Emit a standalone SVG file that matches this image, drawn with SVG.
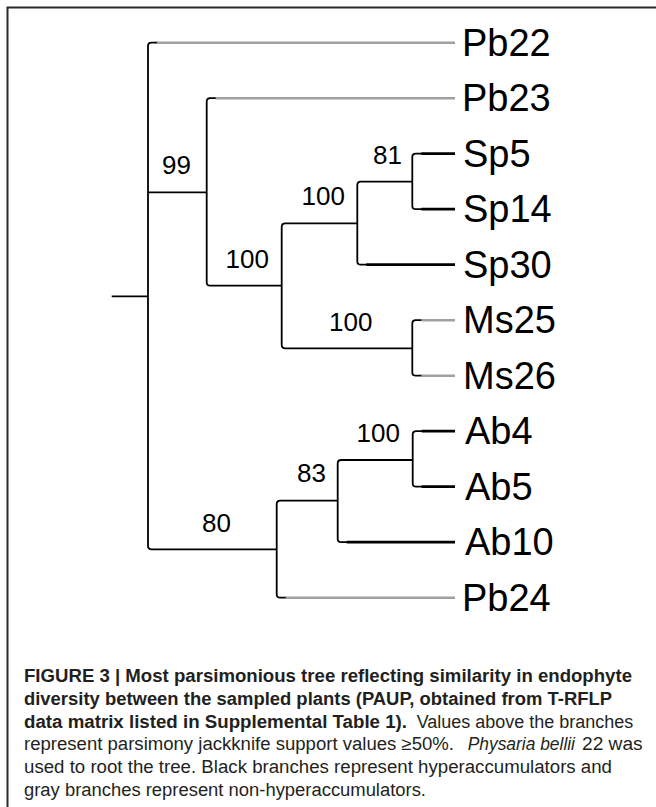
<svg xmlns="http://www.w3.org/2000/svg" width="656" height="807" viewBox="0 0 656 807">
<style>
.frame{stroke:#2b2b2b;stroke-width:2;fill:none}
.br{stroke:#000;stroke-width:1.8;fill:none;stroke-linejoin:round}
.tipb{stroke:#000;stroke-width:2.7;fill:none}
.tipg{stroke:#a0a0a0;stroke-width:2.5;fill:none}
.tax{font-family:"Liberation Sans",Arial,sans-serif;font-size:38px;fill:#000}
.sup{font-family:"Liberation Sans",Arial,sans-serif;font-size:26px;fill:#000;text-anchor:end}
.cap{font-family:"Liberation Sans Narrow","Liberation Sans",Arial,sans-serif;font-size:18px;fill:#231f20}
.b{font-weight:bold}
.i{font-style:italic}
</style>
<rect width="656" height="807" fill="#fff"/>
<path class="frame" d="M7.5,807 V7.5 H656"/>
<g id="connectors">
  <path class="br" d="M111.7,296.3 H148"/>
  <path class="br" d="M158,42.7 H151.5 Q148,42.7 148,46.2 V545.8 Q148,549.3 151.5,549.3 H276.7"/>
  <path class="br" d="M148,192.3 H206.7"/>
  <path class="br" d="M216.7,98.2 H210.2 Q206.7,98.2 206.7,101.7 V282.2 Q206.7,285.7 210.2,285.7 H281.7"/>
  <path class="br" d="M357.3,223.3 H285.2 Q281.7,223.3 281.7,226.8 V344.8 Q281.7,348.3 285.2,348.3 H412.3"/>
  <path class="br" d="M412.3,181.7 H360.8 Q357.3,181.7 357.3,185.2 V261.2 Q357.3,264.7 360.8,264.7 H367.3"/>
  <path class="br" d="M422.3,153.7 H415.8 Q412.3,153.7 412.3,157.2 V205.7 Q412.3,209.2 415.8,209.2 H422.3"/>
  <path class="br" d="M422.3,320.2 H415.8 Q412.3,320.2 412.3,323.7 V372.2 Q412.3,375.7 415.8,375.7 H422.3"/>
  <path class="br" d="M337.7,500.7 H280.2 Q276.7,500.7 276.7,504.2 V594.2 Q276.7,597.7 280.2,597.7 H286.7"/>
  <path class="br" d="M412.7,460 H341.2 Q337.7,460 337.7,463.5 V538.7 Q337.7,542.2 341.2,542.2 H347.7"/>
  <path class="br" d="M422.7,431.2 H416.2 Q412.7,431.2 412.7,434.7 V483.2 Q412.7,486.7 416.2,486.7 H422.7"/>
  <path class="tipg" d="M157,42.7 H455"/>
  <path class="tipg" d="M215.7,98.2 H455"/>
  <path class="tipb" d="M421.3,153.7 H455"/>
  <path class="tipb" d="M421.3,209.2 H455"/>
  <path class="tipb" d="M366.3,264.7 H455"/>
  <path class="tipg" d="M421.3,320.2 H455"/>
  <path class="tipg" d="M421.3,375.7 H455"/>
  <path class="tipb" d="M421.7,431.2 H455"/>
  <path class="tipb" d="M421.7,486.7 H455"/>
  <path class="tipb" d="M346.7,542.2 H455"/>
  <path class="tipg" d="M285.7,597.7 H455"/>
</g>
<g id="Pb22"><text class="tax" x="462" y="55.7">Pb22</text></g>
<g id="Pb23"><text class="tax" x="462" y="111.2">Pb23</text></g>
<g id="Sp5"><text class="tax" x="463" y="166.7">Sp5</text></g>
<g id="Sp14"><text class="tax" x="463" y="222.2">Sp14</text></g>
<g id="Sp30"><text class="tax" x="463" y="277.7">Sp30</text></g>
<g id="Ms25"><text class="tax" x="463" y="333.2">Ms25</text></g>
<g id="Ms26"><text class="tax" x="463" y="388.7">Ms26</text></g>
<g id="Ab4"><text class="tax" x="465" y="444.2">Ab4</text></g>
<g id="Ab5"><text class="tax" x="465" y="499.7">Ab5</text></g>
<g id="Ab10"><text class="tax" x="465" y="555.2">Ab10</text></g>
<g id="Pb24"><text class="tax" x="462" y="610.7">Pb24</text></g>
<g id="node99"><text class="sup" x="191" y="174">99</text></g>
<g id="node100a"><text class="sup" x="269" y="267.7">100</text></g>
<g id="node100b"><text class="sup" x="345" y="205">100</text></g>
<g id="node81"><text class="sup" x="402" y="164">81</text></g>
<g id="node100ms"><text class="sup" x="372.5" y="330.7">100</text></g>
<g id="node100ab"><text class="sup" x="400" y="441.7">100</text></g>
<g id="node83"><text class="sup" x="326" y="482.3">83</text></g>
<g id="node80"><text class="sup" x="231" y="531.7">80</text></g>
<g id="caption">
  <text class="cap b" x="24" y="682" textLength="608" lengthAdjust="spacingAndGlyphs">FIGURE 3 | Most parsimonious tree reflecting similarity in endophyte</text>
  <text class="cap b" x="24" y="704.8" textLength="588" lengthAdjust="spacingAndGlyphs">diversity between the sampled plants (PAUP, obtained from T-RFLP</text>
  <text class="cap b" x="24" y="727.6" textLength="383" lengthAdjust="spacingAndGlyphs">data matrix listed in Supplemental Table 1).</text>
  <text class="cap" x="416.7" y="727.6" textLength="216.6" lengthAdjust="spacingAndGlyphs">Values above the branches</text>
  <text class="cap" x="24" y="750.4" textLength="430" lengthAdjust="spacingAndGlyphs">represent parsimony jackknife support values ≥50%.</text>
  <text class="cap i" x="467.7" y="750.4" textLength="107.3" lengthAdjust="spacingAndGlyphs">Physaria bellii</text>
  <text class="cap" x="582" y="750.4" textLength="60.7" lengthAdjust="spacingAndGlyphs">22 was</text>
  <text class="cap" x="24" y="773.2" textLength="588" lengthAdjust="spacingAndGlyphs">used to root the tree. Black branches represent hyperaccumulators and</text>
  <text class="cap" x="24" y="796" textLength="402" lengthAdjust="spacingAndGlyphs">gray branches represent non-hyperaccumulators.</text>
</g>
</svg>
